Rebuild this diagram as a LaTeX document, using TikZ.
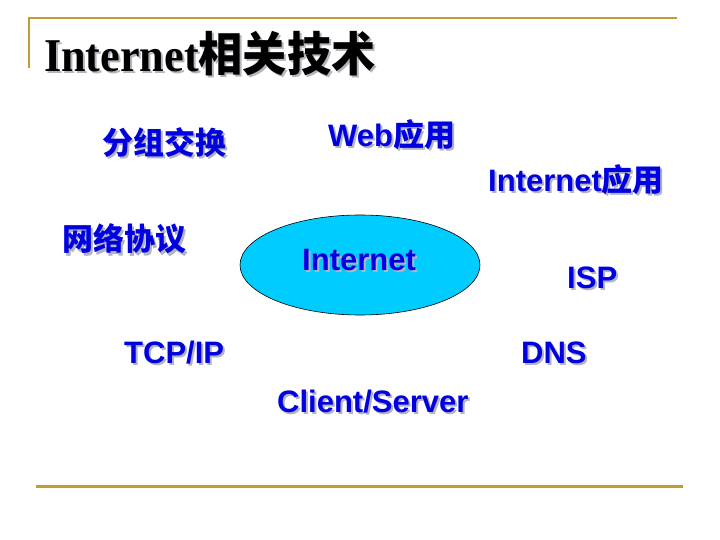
\documentclass[tikz,border=0pt]{standalone}
\usepackage{fontspec}
\setmainfont{Liberation Serif}
\setsansfont{Liberation Sans}
\newfontfamily\cjk{Noto Sans CJK SC}
\usetikzlibrary{shapes.geometric}
\definecolor{framegold}{RGB}{190,158,48}
\definecolor{labelblue}{RGB}{0,0,225}
\definecolor{shadowc}{RGB}{180,180,190}
\definecolor{inetfill}{RGB}{0,204,255}
\newcommand\zh[1]{{\cjk\bfseries #1}}
\newcommand\shd[1]{\makebox[0pt][l]{\hspace{2pt}\raisebox{-2pt}{\color{shadowc}#1}}#1}
\tikzset{
  framerule/.style={draw=framegold, line cap=butt, line join=miter},
  lbl/.style={anchor=base west, inner sep=0pt, text=labelblue,
    font=\fontsize{31}{36}\selectfont\sffamily\bfseries},
  titletext/.style={anchor=base west, inner sep=0pt, text=black,
    font=\fontsize{47}{52}\selectfont\rmfamily\bfseries},
  cloud/.style={ellipse, draw=black, line width=0.6pt, fill=inetfill,
    minimum width=240pt, minimum height=100pt, inner sep=0pt}
}
\begin{document}
\begin{tikzpicture}[x=1pt,y=-1pt]
\useasboundingbox (0,0) rectangle (720,540);
% frame
\coordinate (fl) at (29,68);
\coordinate (fc) at (29,18);
\coordinate (fr) at (677,18);
\coordinate (bl) at (36,486);
\coordinate (br) at (683,486);
\draw[framerule, line width=2.5pt] (fl) -- (fc) -- (fr);
\draw[framerule, line width=3pt] (bl) -- (br);
% title
\node[titletext] (title) at (44,72) {\shd{\scalebox{0.94}[1]{Internet\zh{相关技术}}}};
% ellipse
\node[cloud] (inet) at (360,265) {};
\node[lbl] (inettext) at (302,270) {\shd{Internet}};
% labels
\node[lbl] (fenzu) at (102,155) {\shd{\zh{分组交换}}};
\node[lbl] (web) at (328,147) {\shd{Web\zh{应用}}};
\node[lbl] (inetapp) at (488,192) {\shd{Internet\zh{应用}}};
\node[lbl] (wangluo) at (62,251) {\shd{\zh{网络协议}}};
\node[lbl] (isp) at (567,288) {\shd{ISP}};
\node[lbl] (tcpip) at (124,363) {\shd{TCP/IP}};
\node[lbl] (dns) at (521,363) {\shd{DNS}};
\node[lbl] (cs) at (277,412) {\shd{Client/Server}};
\end{tikzpicture}
\end{document}
